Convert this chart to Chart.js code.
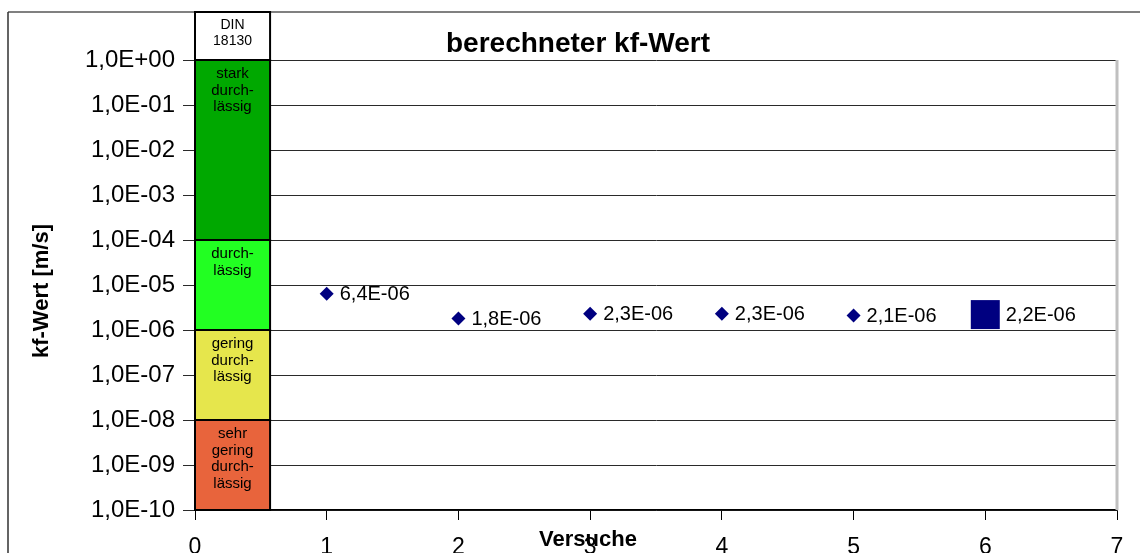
<!DOCTYPE html>
<html>
<head>
<meta charset="utf-8">
<script src="https://cdn.jsdelivr.net/npm/chart.js@4.4.1/dist/chart.umd.min.js"></script>
<style>
  html, body { margin: 0; padding: 0; background: #fff; }
  #wrap { width: 1140px; height: 553px; position: relative; }
</style>
</head>
<body>
<div id="wrap"><canvas id="kfChart"></canvas></div>
<script>
// Messwerte (Versuch -> kf-Wert)
const versuche = [1, 2, 3, 4, 5, 6];
const kfWerte = [6.4e-6, 1.8e-6, 2.3e-6, 2.3e-6, 2.1e-6, 2.2e-6];

// Achsen
const yTickValues = [1e0, 1e-1, 1e-2, 1e-3, 1e-4, 1e-5, 1e-6, 1e-7, 1e-8, 1e-9, 1e-10];
const xTickValues = [0, 1, 2, 3, 4, 5, 6, 7];

// DIN 18130 Bereiche
const bandLimits = [1e0, 1e-4, 1e-6, 1e-8, 1e-10];
const bandTexts = [
    ['stark', 'durch-', 'lässig'],
    ['durch-', 'lässig'],
    ['gering', 'durch-', 'lässig'],
    ['sehr', 'gering', 'durch-', 'lässig']
];
const bandHeader = ['DIN', '18130'];
const bandColors = ['#00a800', '#22ff22', '#e6e64c', '#e8643c'];
const bandRight = 0.57;

const FONT = '"Liberation Sans", Arial, sans-serif';

// Excel-Format: 1,0E-05
function sci(v) {
    const e = Math.floor(Math.log10(v) + 1e-9);
    const m = v / Math.pow(10, e);
    return m.toFixed(1).replace('.', ',') + 'E' + (e < 0 ? '-' : '+') + String(Math.abs(e)).padStart(2, '0');
}

const pointStyles = ['rectRot', 'rectRot', 'rectRot', 'rectRot', 'rectRot', 'rect'];
const pointRadii = [7, 7, 7, 7, 7, 20.5];

const framePlugin = {
    id: 'frame',
    beforeDraw(chart) {
        const ctx = chart.ctx;
        ctx.save();
        ctx.fillStyle = '#fff';
        ctx.fillRect(0, 0, chart.width, chart.height);
        // outer border
        ctx.strokeStyle = '#808080';
        ctx.lineWidth = 2;
        ctx.beginPath();
        ctx.moveTo(chart.width, 12);
        ctx.lineTo(8, 12);
        ctx.stroke();
        ctx.strokeStyle = '#303030';
        ctx.lineWidth = 1.5;
        ctx.beginPath();
        ctx.moveTo(8, 12);
        ctx.lineTo(8, chart.height);
        ctx.stroke();
        ctx.restore();
    },
    beforeDatasetsDraw(chart) {
        const ctx = chart.ctx;
        const xs = chart.scales.x, ys = chart.scales.y;
        const a = chart.chartArea;
        const x0 = xs.getPixelForValue(0), x1 = xs.getPixelForValue(bandRight);
        ctx.save();
        // right border of plot area
        ctx.strokeStyle = '#c0c0c0';
        ctx.lineWidth = 3;
        ctx.beginPath();
        ctx.moveTo(a.right, a.top);
        ctx.lineTo(a.right, a.bottom);
        ctx.stroke();
        // header box
        const top0 = ys.getPixelForValue(bandLimits[0]);
        ctx.fillStyle = '#fff';
        ctx.fillRect(x0, 12, x1 - x0, top0 - 12);
        ctx.strokeStyle = '#000';
        ctx.lineWidth = 2;
        ctx.strokeRect(x0, 12, x1 - x0, top0 - 12);
        ctx.fillStyle = '#000';
        ctx.font = '14px ' + FONT;
        ctx.textAlign = 'center';
        ctx.textBaseline = 'middle';
        bandHeader.forEach((t, i) => ctx.fillText(t, (x0 + x1) / 2, 25 + i * 16));
        // bands
        for (let i = 0; i < bandColors.length; i++) {
            const yt = ys.getPixelForValue(bandLimits[i]);
            const yb = ys.getPixelForValue(bandLimits[i + 1]);
            ctx.fillStyle = bandColors[i];
            ctx.fillRect(x0, yt, x1 - x0, yb - yt);
            ctx.strokeStyle = '#000';
            ctx.lineWidth = 2;
            ctx.strokeRect(x0, yt, x1 - x0, yb - yt);
            ctx.fillStyle = '#000';
            ctx.font = '15px ' + FONT;
            bandTexts[i].forEach((t, j) => ctx.fillText(t, (x0 + x1) / 2, yt + 14 + j * 16.5));
        }
        ctx.restore();
    },
    afterDatasetsDraw(chart) {
        const ctx = chart.ctx;
        const meta = chart.getDatasetMeta(0);
        ctx.save();
        ctx.fillStyle = '#000';
        ctx.font = '20px ' + FONT;
        ctx.textAlign = 'left';
        ctx.textBaseline = 'middle';
        meta.data.forEach((pt, i) => {
            const half = pointStyles[i] === 'rect' ? pointRadii[i] * Math.SQRT1_2 : pointRadii[i];
            ctx.fillText(sci(kfWerte[i]), pt.x + half + 6, pt.y + 1);
        });
        // title
        ctx.font = 'bold 28px ' + FONT;
        ctx.textAlign = 'center';
        ctx.textBaseline = 'alphabetic';
        ctx.fillText('berechneter kf-Wert', 578, 52);
        // axis titles
        ctx.font = 'bold 22px ' + FONT;
        ctx.textBaseline = 'middle';
        ctx.fillText('Versuche', 588, 540);
        ctx.translate(42, 291);
        ctx.rotate(-Math.PI / 2);
        ctx.fillText('kf-Wert [m/s]', 0, 0);
        ctx.restore();
    }
};

new Chart(document.getElementById('kfChart'), {
    type: 'scatter',
    data: {
        datasets: [{
            label: 'kf-Wert',
            data: versuche.map((v, i) => ({ x: v, y: kfWerte[i] })),
            pointStyle: pointStyles,
            pointRadius: pointRadii,
            pointHoverRadius: pointRadii,
            backgroundColor: '#000080',
            borderColor: '#000080',
            borderWidth: 0
        }]
    },
    options: {
        responsive: true,
        maintainAspectRatio: false,
        animation: false,
        layout: { padding: { left: 0, right: 23, top: 60, bottom: 0 } },
        plugins: {
            legend: { display: false },
            tooltip: { enabled: false }
        },
        scales: {
            x: {
                type: 'linear',
                min: 0,
                max: 7,
                afterFit: s => { s.height = 43; },
                afterBuildTicks: s => { s.ticks = xTickValues.map(v => ({ value: v })); },
                grid: { drawOnChartArea: false, drawTicks: true, tickLength: 10, color: '#000', lineWidth: 1 },
                border: { display: true, color: '#000', width: 1.5 },
                ticks: { color: '#000', font: { family: FONT, size: 23 }, padding: 14, autoSkip: false, maxRotation: 0 }
            },
            y: {
                type: 'logarithmic',
                min: 1e-10,
                max: 1,
                afterFit: s => { s.width = 195; },
                afterBuildTicks: s => { s.ticks = yTickValues.map(v => ({ value: v })); },
                grid: { color: '#2a2a2a', lineWidth: 1, drawTicks: true, tickLength: 12 },
                border: { display: true, color: '#000', width: 1 },
                ticks: {
                    color: '#000',
                    font: { family: FONT, size: 24 },
                    padding: 8,
                    autoSkip: false,
                    callback: v => sci(v)
                }
            }
        }
    },
    plugins: [framePlugin]
});
</script>
</body>
</html>
